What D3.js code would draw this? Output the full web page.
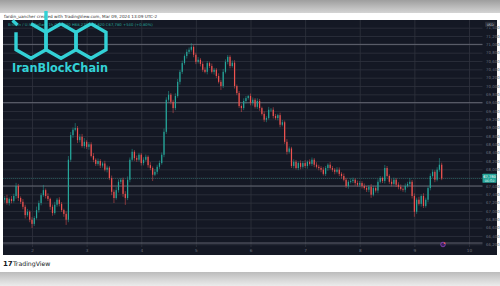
<!DOCTYPE html>
<html>
<head>
<meta charset="utf-8">
<script src="https://cdn.jsdelivr.net/npm/d3@7"></script>
<style>
  body { margin: 0; background: #fff; }
  svg { display: block; }
</style>
</head>
<body>
<script>

// hourly closes, BTCUSD, from Mar 1 11:00 to Mar 9 13:00
var closes = [67270, 67310, 67190, 67290, 67240, 67360, 67600, 67310, 67220, 67100,
  66900, 66980, 66790, 66690, 66830, 67020, 67190, 67380, 67500, 67360,
  67290, 67100, 66950, 67150, 67270, 67170, 67020, 66930, 66790, 68230,
  68820, 68950, 68990, 68700, 68780, 68560, 68660, 68540, 68600, 68320,
  68230, 68130, 68200, 68090, 68140, 67990, 68040, 67790, 67460, 67310,
  67500, 67700, 67750, 67410, 67310, 67750, 68230, 68420, 68270, 68230,
  68350, 68150, 68230, 68300, 68100, 68030, 67870, 67940, 68060, 68150,
  68350, 68900, 69670, 69790, 69620, 69470, 69760, 70100, 70340, 70550,
  70720, 70820, 70870, 70940, 70750, 70580, 70630, 70530, 70390, 70340,
  70550, 70480, 70340, 70390, 70240, 70100, 70000, 70340, 70580, 70700,
  70480, 70560, 70000, 69830, 69520, 69470, 69640, 69710, 69760, 69590,
  69670, 69500, 69640, 69470, 69330, 69190, 69230, 69430, 69430, 69280,
  69230, 69300, 69070, 69130, 68660, 68420, 68500, 68080, 68180, 68030,
  68150, 68060, 68150, 68080, 68180, 68130, 68230, 68110, 68060, 68030,
  67990, 67890, 68030, 68110, 68030, 67990, 67940, 67990, 67890, 67840,
  67750, 67600, 67700, 67720, 67750, 67670, 67630, 67670, 67600, 67550,
  67510, 67580, 67390, 67550, 67490, 67700, 67790, 67720, 68030, 67840,
  67700, 67650, 67750, 67630, 67580, 67530, 67510, 67600, 67650, 67700,
  67360, 66980, 67270, 67170, 67360, 67120, 67270, 67550, 67840, 67940,
  67750, 67990, 68110, 67780];
var firstOpen = 67240;

// wick lengths ($) above / below the body
var wickUp = [60, 45, 80, 35, 70, 55, 75, 50, 40, 65,
  50, 70, 35, 60, 45, 85, 60, 50, 125, 40,
  65, 30, 55, 70, 40, 60, 45, 35, 60, 90,
  75, 55, 120, 50, 65, 70, 90, 40, 55, 50,
  70, 35, 60, 45, 40, 65, 50, 35, 60, 55,
  70, 60, 40, 50, 65, 80, 55, 70, 40, 60,
  45, 40, 60, 55, 35, 70, 40, 65, 50, 60,
  55, 80, 60, 90, 40, 50, 65, 70, 45, 60,
  40, 60, 55, 90, 40, 50, 65, 40, 55, 60,
  50, 35, 60, 45, 40, 65, 50, 70, 60, 45,
  40, 55, 60, 35, 50, 40, 65, 50, 25, 60,
  55, 40, 65, 50, 35, 60, 45, 70, 40, 60,
  50, 35, 60, 55, 40, 65, 50, 40, 60, 45,
  40, 65, 50, 70, 35, 60, 55, 40, 60, 50,
  45, 60, 50, 35, 65, 50, 40, 60, 55, 40,
  60, 45, 40, 65, 50, 35, 60, 50, 45, 60,
  50, 40, 65, 55, 40, 60, 50, 35, 75, 50,
  40, 65, 50, 40, 60, 55, 35, 60, 50, 90,
  45, 60, 50, 70, 40, 65, 50, 40, 60, 55,
  40, 60, 160, 50];
var wickDn = [50, 70, 40, 60, 55, 40, 65, 70, 50, 60,
  80, 40, 60, 100, 50, 35, 60, 55, 40, 60,
  50, 70, 65, 40, 50, 60, 45, 70, 125, 60,
  50, 65, 40, 70, 55, 40, 60, 50, 70, 35,
  60, 50, 45, 60, 50, 40, 65, 50, 80, 120,
  40, 60, 55, 70, 165, 50, 60, 40, 65, 50,
  40, 60, 55, 40, 60, 50, 150, 35, 60, 50,
  40, 60, 50, 45, 60, 120, 50, 40, 65, 50,
  40, 60, 50, 45, 60, 55, 40, 60, 50, 35,
  60, 50, 40, 65, 50, 40, 95, 50, 40, 60,
  55, 40, 60, 50, 45, 95, 50, 60, 40, 55,
  60, 40, 50, 65, 40, 50, 60, 35, 50, 60,
  40, 55, 60, 40, 50, 65, 40, 50, 60, 35,
  50, 60, 45, 50, 65, 40, 50, 60, 40, 55,
  60, 40, 50, 65, 35, 50, 60, 40, 55, 60,
  40, 50, 65, 40, 50, 60, 45, 50, 60, 40,
  55, 60, 75, 40, 50, 65, 40, 50, 60, 35,
  50, 60, 40, 55, 60, 40, 50, 65, 40, 50,
  60, 120, 50, 40, 65, 50, 40, 60, 55, 40,
  60, 40, 50, 40];

var priceTicks = [71400, 71200, 71000, 70800, 70600, 70400, 70200, 70000, 69800,
  69600, 69400, 69200, 69000, 68800, 68600, 68400, 68200, 68000, 67800, 67600,
  67400, 67200, 67000, 66800, 66600, 66400, 66200];
var dayTicks = [2, 3, 4, 5, 6, 7, 8, 9, 10];
var levels = [71000, 69600, 67600, 66230];   // drawn horizontal lines
var lastPrice = 67780;
var countdown = "06:50";
var startTime = new Date(2024, 2, 1, 11);

var w = 500, h = 286;
var chartL = 3, chartR = 497, chartT = 20, chartB = 255;
var plotR = 482.5, plotB = 247;

var svg = d3.select("body").append("svg")
  .attr("width", w)
  .attr("height", h)
  .style("font-family", "'DejaVu Sans', sans-serif");

var defs = svg.append("defs");
var gTop = defs.append("linearGradient").attr("id", "gTop").attr("x1", 0).attr("x2", 0).attr("y1", 0).attr("y2", 1);
gTop.append("stop").attr("offset", "0%").attr("stop-color", "#9e9e9e");
gTop.append("stop").attr("offset", "100%").attr("stop-color", "#d4d4d4");
var gBot = defs.append("linearGradient").attr("id", "gBot").attr("x1", 0).attr("x2", 0).attr("y1", 0).attr("y2", 1);
gBot.append("stop").attr("offset", "0%").attr("stop-color", "#bcbcbc");
gBot.append("stop").attr("offset", "100%").attr("stop-color", "#ececec");
defs.append("clipPath").attr("id", "plotClip")
  .append("rect").attr("x", chartL).attr("y", chartT).attr("width", plotR - chartL).attr("height", plotB - chartT);

// page frame
svg.append("rect").attr("x", 0).attr("y", 0).attr("width", w).attr("height", 13).attr("fill", "url(#gTop)");
svg.append("rect").attr("x", 0).attr("y", 272).attr("width", w).attr("height", 14).attr("fill", "url(#gBot)");

svg.append("text")
  .attr("x", 4).attr("y", 17.6)
  .attr("font-size", 4.2).attr("fill", "#333")
  .text("fardin_uancher created with TradingView.com, Mar 09, 2024 13:09 UTC-2");

svg.append("rect")
  .attr("x", chartL).attr("y", chartT)
  .attr("width", chartR - chartL).attr("height", chartB - chartT)
  .attr("fill", "#141824");

// scales
var x = d3.scaleTime()
  .domain([new Date(2024, 2, 2), new Date(2024, 2, 10)])
  .range([32, 469]);
var y = d3.scaleLinear()
  .domain([66200, 71400])
  .range([27.7 + 8.33 * 26, 27.7]);
var ly = y(lastPrice);

// grid
svg.append("g")
  .attr("transform", "translate(0," + plotB + ")")
  .call(d3.axisBottom(x)
    .tickValues(dayTicks.map(function(d) { return new Date(2024, 2, d); }))
    .tickFormat(d3.timeFormat("%-d"))
    .tickSize(-(plotB - chartT))
    .tickPadding(2.5))
  .call(function(g) {
    g.select(".domain").remove();
    g.selectAll("line").attr("stroke", "#2e323e").attr("stroke-width", 0.8);
    g.selectAll("text").attr("fill", "#6b6f7a").attr("font-size", 4.2).attr("font-family", "'DejaVu Sans', sans-serif");
  });

svg.append("g")
  .attr("transform", "translate(" + plotR + ",0)")
  .call(d3.axisRight(y)
    .tickValues(priceTicks)
    .tickFormat(d3.format(","))
    .tickSize(-(plotR - chartL))
    .tickPadding(3.5))
  .call(function(g) {
    g.select(".domain").remove();
    g.selectAll("line").attr("stroke", "#2e323e").attr("stroke-width", 0.8);
    g.selectAll("text").attr("fill", "#6b6f7a").attr("font-size", 3.9).attr("font-family", "'DejaVu Sans', sans-serif");
    // hide labels covered by the last-price tag
    g.selectAll(".tick").filter(function(d) { return Math.abs(y(d) - ly) < 7; })
      .select("text").remove();
  });

svg.append("g").selectAll("line")
  .data(levels)
  .enter().append("line")
  .attr("x1", chartL).attr("x2", plotR)
  .attr("y1", function(d) { return y(d); })
  .attr("y2", function(d) { return y(d); })
  .attr("stroke", "#6a6d78")
  .attr("stroke-width", 0.9);

// candles
var candles = closes.map(function(c, i) {
  var o = i ? closes[i - 1] : firstOpen;
  return {
    t: d3.timeHour.offset(startTime, i),
    o: o, c: c,
    hi: Math.max(o, c) + wickUp[i],
    lo: Math.min(o, c) - wickDn[i]
  };
});

var plot = svg.append("g").attr("clip-path", "url(#plotClip)");

plot.append("line")
  .attr("x1", chartL).attr("x2", plotR)
  .attr("y1", ly).attr("y2", ly)
  .attr("stroke", "#26a69a").attr("stroke-opacity", 0.6)
  .attr("stroke-width", 0.6).attr("stroke-dasharray", "1,1");

var cg = plot.selectAll(".candle")
  .data(candles)
  .enter().append("g")
  .attr("class", "candle")
  .attr("fill", function(d) { return d.c >= d.o ? "#26a69a" : "#ef5350"; })
  .attr("stroke", function(d) { return d.c >= d.o ? "#26a69a" : "#ef5350"; });

cg.append("line")
  .attr("x1", function(d) { return x(d.t); })
  .attr("x2", function(d) { return x(d.t); })
  .attr("y1", function(d) { return y(d.hi); })
  .attr("y2", function(d) { return y(d.lo); })
  .attr("stroke-width", 0.5);

cg.append("rect")
  .attr("x", function(d) { return x(d.t) - 0.6; })
  .attr("width", 1.2)
  .attr("y", function(d) { return y(Math.max(d.o, d.c)); })
  .attr("height", function(d) { return Math.max(0.6, Math.abs(y(d.o) - y(d.c))); })
  .attr("stroke", "none");

// event marker
svg.append("circle").attr("cx", 443).attr("cy", 244.5).attr("r", 2.3)
  .attr("fill", "#3b2060").attr("stroke", "#9c4dcc").attr("stroke-width", 0.7);
svg.append("circle").attr("cx", 444.6).attr("cy", 243.2).attr("r", 0.9).attr("fill", "#ef5350");

// price axis extras
svg.append("rect").attr("x", 485).attr("y", 21.8).attr("width", 10.5).attr("height", 5)
  .attr("fill", "#2a2e39").attr("rx", 0.6);
svg.append("text").attr("x", 490.2).attr("y", 25.5).attr("text-anchor", "middle")
  .attr("font-size", 3.3).attr("fill", "#c9ccd4").text("USD");

svg.append("rect").attr("x", plotR).attr("y", ly - 4.8).attr("width", 14).attr("height", 9.2)
  .attr("fill", "#26a69a").attr("rx", 0.6);
svg.append("text").attr("x", plotR + 7).attr("y", ly - 0.8).attr("text-anchor", "middle")
  .attr("font-size", 3.6).attr("fill", "#fff").text(d3.format(",")(lastPrice));
svg.append("text").attr("x", plotR + 7).attr("y", ly + 3.4).attr("text-anchor", "middle")
  .attr("font-size", 3.3).attr("fill", "#e8f6f4").text(countdown);

// legend row (mostly under the logo)
svg.append("text").attr("x", 8).attr("y", 25.6)
  .attr("font-size", 3.8).attr("fill", "#26a69a")
  .text("Bitcoin / U.S. Dollar · 1h  O67,240 H68,270 L67,620 C67,780 +540 (+0.80%)");

// IranBlockChain logo overlay
var logo = svg.append("g").attr("fill", "none").attr("stroke", "#33d1d6")
  .attr("stroke-width", 3.4).attr("stroke-linejoin", "miter");
var hexR = 17.3, hexY = 41;
var hexCenters = [31, 61, 91];
function hexPts(cx, from, to) {
  var pts = [];
  for (var k = from; k <= to; k++) {
    var a = (-90 + 60 * k) * Math.PI / 180;
    pts.push([cx + hexR * Math.cos(a), hexY + hexR * Math.sin(a)]);
  }
  return pts;
}
var line = d3.line();
logo.append("path").attr("d", line(hexPts(hexCenters[0], 0, 5)));
logo.append("path").attr("d", line(hexPts(hexCenters[1], 0, 6)));
logo.append("path").attr("d", line(hexPts(hexCenters[2], 0, 6)));
logo.append("line").attr("x1", 46).attr("x2", 46).attr("y1", 11).attr("y2", hexY - hexR / 2);
logo.append("line").attr("x1", 12.5).attr("y1", 20.5).attr("x2", 17.5).attr("y2", 25);

svg.append("text")
  .attr("x", 12).attr("y", 71.7)
  .attr("font-size", 11.5).attr("font-weight", "bold")
  .attr("textLength", 96).attr("lengthAdjust", "spacingAndGlyphs")
  .attr("fill", "#33d1d6")
  .text("IranBlockChain");

// TradingView footer
svg.append("text").attr("x", 3).attr("y", 266)
  .attr("font-size", 7).attr("font-weight", "bold").attr("fill", "#131722")
  .text("17");
svg.append("text").attr("x", 13).attr("y", 266)
  .attr("font-size", 6.2).attr("fill", "#131722")
  .text("TradingView");

</script>
</body>
</html>
